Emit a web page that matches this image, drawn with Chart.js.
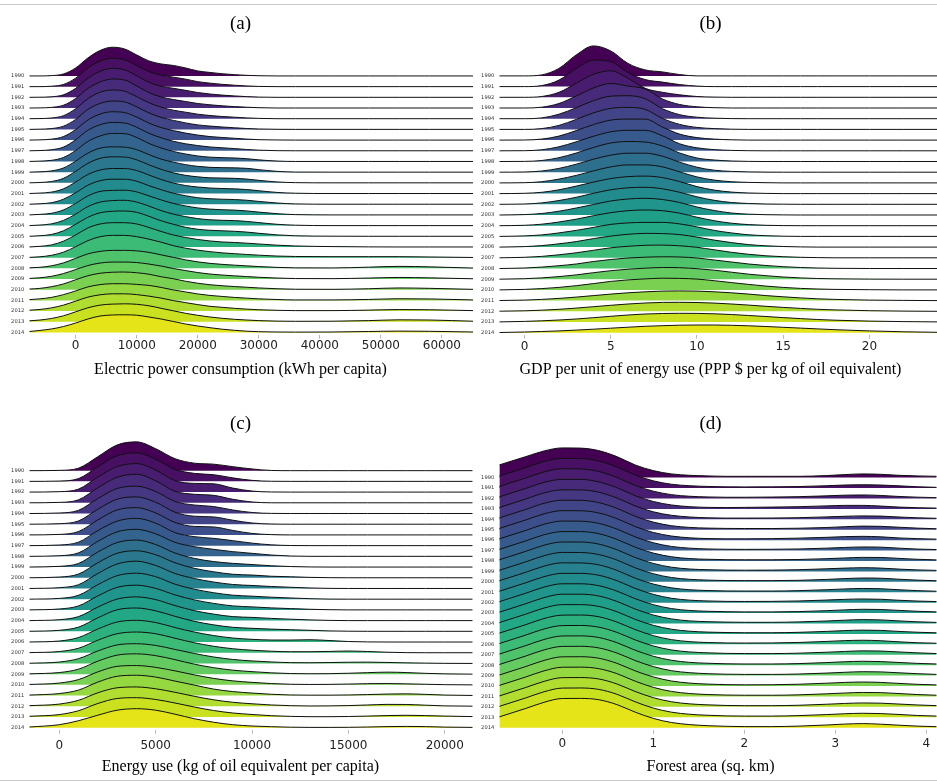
<!DOCTYPE html>
<html>
<head>
<meta charset="utf-8">
<script src="https://cdn.jsdelivr.net/npm/chart.js@4.4.1/dist/chart.umd.min.js"></script>
<style>
    html, body { margin: 0; padding: 0; background: #fff; }
    body { position: relative; width: 937px; height: 781px; overflow: hidden; }
    canvas { position: absolute; }
    .rule { position: absolute; left: 0; width: 937px; height: 1px; background: #c8c8c8; }
</style>
</head>
<body>
<div class="rule" style="top:4px"></div>
<canvas id="chartElec" width="481" height="390" style="left:0;top:0"></canvas>
<canvas id="chartGdp" width="471" height="390" style="left:475px;top:0"></canvas>
<canvas id="chartEnergy" width="481" height="391" style="left:0;top:390px"></canvas>
<canvas id="chartForest" width="471" height="391" style="left:475px;top:390px"></canvas>
<div class="rule" style="top:780px"></div>
<script>
var years = ["1990", "1991", "1992", "1993", "1994", "1995", "1996", "1997", "1998", "1999", "2000", "2001", "2002",
    "2003", "2004", "2005", "2006", "2007", "2008", "2009", "2010", "2011", "2012", "2013", "2014"];

// (a) electric power consumption, kWh per capita
var elecGrid = [-7600, -6000, -4000, -2000, 0, 2000, 4000, 6000, 8000, 10000, 12000, 14000, 16000, 18000, 20000,
    22000, 24000, 26000, 28000, 30000, 33000, 36000, 42000, 48000, 53000, 58000, 65100];
var elecTicks = [0, 10000, 20000, 30000, 40000, 50000, 60000];
var elecDensity = [
    [0,0,0.3,2,8, 18,25.5,28.7,27,21, 15,12,10.5,8,5, 3.5,2.2,1.3,0.6,0.2, 0,0,0,0,0,0,0],
    [0,0,0.4,2.2,8.5, 18.5,25.5,28.3,26.8,21, 15,11.5,9.5,7.5,5, 3.5,2.3,1.4,0.7,0.2, 0,0,0,0,0,0,0],
    [0,0.1,0.5,2.5,9, 19,26,29,27.5,21.5, 15,11,9,7,4.8, 3.3,2.2,1.4,0.7,0.2, 0,0,0,0,0,0,0],
    [0,0.1,0.6,2.8,9.5, 19.5,26,29,28,22, 15.5,11,8.5,6.5,4.5, 3.2,2.2,1.4,0.8,0.3, 0,0,0,0,0,0,0],
    [0,0.1,0.7,3,10, 20,26.5,28.7,27.5,22, 16,11.5,8.5,6.5,4.5, 3.2,2.2,1.5,0.8,0.3, 0,0,0,0,0,0,0],
    [0,0.2,0.8,3.2,10, 20,26,28.3,27.5,22.5, 16.5,12,9,6.5,4.5, 3.3,2.4,1.6,0.9,0.4, 0.1,0,0,0,0,0,0],
    [0,0.2,0.9,3.5,10.5, 20,26,28.3,27.5,23, 17,12.5,9.5,7,5, 3.5,2.6,1.8,1,0.4, 0.1,0,0,0,0,0,0],
    [0,0.2,1,3.7,11, 20.5,26,28.3,27.8,23.5, 17.5,13,9.5,7,5.2, 3.8,3,2.2,1.3,0.6, 0.1,0,0,0,0,0,0],
    [0,0.3,1.1,4,11, 20,25.5,28,27.8,24, 18,13.5,10,7.5,5.5, 4.3,3.8,3.5,2.8,1.6, 0.4,0,0,0,0,0,0],
    [0,0.3,1.2,4.2,11, 19,24,25.3,25,22.5, 17.5,13,10,7.5,5.8, 4.8,4.5,4.3,3.8,2.5, 0.8,0.1,0,0,0,0,0],
    [0,0.3,1.3,4.5,11.5, 19.5,24.5,26,25.8,23, 18,13.5,10,7.5,6, 5,4.8,4.5,3.8,2.5, 0.9,0.2,0,0,0,0,0],
    [0,0.4,1.4,4.7,11.5, 19,23.5,25,25,23, 18.5,14,10.5,8,6.5, 5.5,5,4.7,4,2.8, 1.1,0.3,0,0,0,0,0],
    [0,0.4,1.5,5,11.5, 19,23.5,25,25,23, 18.5,14.5,11,8.5,6.5, 5.5,5,4.7,4,2.8, 1.2,0.3,0,0,0,0,0],
    [0,0.5,1.6,5,11.5, 19,23.5,24.5,24.7,23, 19,15,11.5,9,7, 5.8,5.2,4.8,4,2.8, 1.2,0.3,0,0,0,0,0],
    [0,0.5,1.7,5.2,11.5, 19,23.5,25,25.3,23.5, 19.5,15,11.5,9,7, 5.8,5.3,5,4.2,3, 1.3,0.4,0,0,0,0,0],
    [0,0.5,1.8,5.5,12, 19,23.5,25,25.3,24, 20,15.5,12,9,7, 6,5.5,5,4.2,3, 1.4,0.5,0.1,0,0,0,0],
    [0,0.6,2,5.8,12, 19,23,24.3,24.3,23, 19.5,15.5,12,9.5,7.5, 6,5,4.5,3.8,3, 1.8,1,0.4,0.1,0,0,0],
    [0.3,0.8,2.3,5.5,11, 17,21,22.3,22.3,21, 18.5,15.5,12,9.5,7.5, 6,4.8,4,3.2,2.5, 1.6,1.2,1,1,1,0.7,0.2],
    [0.5,1,2.5,5.5,10, 14.5,17,18,18,17.5, 16,13.5,11,8.5,6.5, 5,4,3.2,2.5,1.8, 1,0.5,0.4,1.2,2,1.5,0.3],
    [0.6,1.2,2.7,5.5,9.5, 13.5,16,17,17,16.5, 15,13,10.5,8.5,6.5, 5,4,3.2,2.5,1.8, 1,0.5,0.4,1,1.6,1.2,0.3],
    [0.7,1.3,3,5.8,10, 14,16.5,17.5,17.7,17, 15.5,13,11,8.5,6.5, 5,4,3.2,2.5,1.8, 1,0.5,0.4,1,1.8,1.4,0.4],
    [0.8,1.5,3,5.8,9.5, 13.5,15.8,16.7,16.7,16, 15,13,10.5,8.5,6.5, 5,4,3,2.3,1.6, 0.9,0.5,0.5,1,1.7,1.5,0.5],
    [0.9,1.6,3.2,6,10, 14,16.3,17.3,17.3,16.5, 15,13,10.5,8.5,6.5, 4.8,3.8,2.8,2,1.4, 0.8,0.5,0.5,1,1.6,1.4,0.5],
    [1,1.7,3.3,6,10, 14,16.7,17.7,18,17.5, 16,13.5,11,8.5,6.5, 4.8,3.5,2.5,1.8,1.2, 0.7,0.5,0.6,1.2,2,1.8,0.6],
    [1,2,3.5,6,9.5, 13.5,16.5,17.5,17.7,17.3, 15.5,13.5,11,8.5,6.5, 4.8,3.3,2.2,1.3,0.8, 0.5,0.4,0.5,1,1.4,1.2,0.5]
];

// (b) GDP per unit of energy use
var gdpGrid = [-1.46, 0, 1, 2, 3, 4, 5, 6, 7, 8, 9, 10, 11, 12, 13, 14, 15, 16, 17, 18, 20, 22, 23.92];
var gdpTicks = [0, 5, 10, 15, 20];
var gdpDensity = [
    [0,0,1,7.5,21, 30,25,12.5,6,4, 1.3,0,0,0,0, 0,0,0,0,0, 0,0,0],
    [0,0,1,6.5,18, 26.5,25,14,7,4.5, 2,0.5,0,0,0, 0,0,0,0,0, 0,0,0],
    [0,0,0.8,5,14, 23,26.5,19,9,5, 2.5,0.8,0.2,0,0, 0,0,0,0,0, 0,0,0],
    [0,0,0.8,4.5,12, 20,24.5,22,19,9, 3.5,1.2,0.3,0,0, 0,0,0,0,0, 0,0,0],
    [0,0,0.8,4.5,11, 18,22.5,23,20,10, 4,1.5,0.5,0.1,0, 0,0,0,0,0, 0,0,0],
    [0,0,0.8,4,10, 16.5,21,22,20,11, 5,2,0.8,0.2,0, 0,0,0,0,0, 0,0,0],
    [0,0.1,1,4,9.5, 15.5,20,21,21,13, 6,2.5,1,0.3,0, 0,0,0,0,0, 0,0,0],
    [0,0.1,1,4,9, 14.5,19,20.5,20.5,15, 7,3,1.2,0.4,0.1, 0,0,0,0,0, 0,0,0],
    [0,0.1,1,3.8,8.5, 14,18.5,20,19.5,15.5, 8.5,3.5,1.5,0.5,0.1, 0,0,0,0,0, 0,0,0],
    [0,0.2,1.2,3.8,8, 13,17,19,19,16, 10,5,2,0.8,0.3, 0.1,0,0,0,0, 0,0,0],
    [0,0.2,1.2,3.8,7.5, 12,16,18,18,16, 11,6,2.8,1.2,0.5, 0.2,0,0,0,0, 0,0,0],
    [0,0.3,1.3,3.8,7.5, 11.5,15,17,17.5,16, 12,7,3.5,1.5,0.6, 0.2,0,0,0,0, 0,0,0],
    [0,0.3,1.4,3.8,7, 11,14.5,16.5,17,15.5, 12,7.5,4,1.8,0.8, 0.3,0.1,0,0,0, 0,0,0],
    [0,0.4,1.5,3.8,7, 10.5,14,16,16.7,15.5, 12.5,8,4.5,2,0.8, 0.3,0.1,0,0,0, 0,0,0],
    [0,0.4,1.5,3.7,6.5, 10,13,15,15.7,15, 12.5,8.5,5,2.5,1.1, 0.4,0.1,0,0,0, 0,0,0],
    [0,0.5,1.5,3.5,6, 9,12,13.5,14,14, 12.5,9.5,6,3.5,1.6, 0.7,0.2,0,0,0, 0,0,0],
    [0,0.5,1.5,3.3,5.5, 8.5,11,12.8,13.7,13.5, 12.5,10,7,4.5,2.5, 1.3,0.6,0.2,0,0, 0,0,0],
    [0,0.5,1.4,3,5, 7.5,10,11.5,12.5,12.7, 12,10.5,8,5.5,3.5, 2,1.1,0.5,0.2,0, 0,0,0],
    [0,0.5,1.4,2.8,4.5, 7,9,10.5,11.3,11.7, 11.5,10.5,8.5,6.5,4.5, 3,1.8,1,0.5,0.2, 0,0,0],
    [0,0.5,1.3,2.6,4.3, 6.5,8.5,10,11,11.7, 11.5,10.5,9,7,5, 3.5,2.2,1.3,0.7,0.4, 0.1,0,0],
    [0,0.5,1.3,2.5,4.2, 6.3,8.5,10,11,11.7, 11.5,10.8,9.2,7.3,5.5, 3.8,2.5,1.5,0.9,0.5, 0.2,0,0],
    [0.1,0.5,1.2,2.2,3.5, 5,6.5,7.8,8.8,9.5, 9.7,9.5,8.8,7.8,6.5, 5,3.8,2.7,1.8,1.2, 0.5,0.2,0],
    [0.1,0.5,1.1,2,3.2, 4.6,6,7.3,8.3,8.9, 9,8.8,8.2,7.3,6.2, 5,3.9,2.9,2,1.4, 0.6,0.2,0],
    [0.1,0.6,1.2,2,3, 4.3,5.7,7,8,8.5, 8.7,8.6,8.2,7.5,6.5, 5.5,4.4,3.4,2.5,1.8, 0.9,0.4,0.1],
    [0.2,0.7,1.2,1.8,2.6, 3.5,4.5,5.5,6.4,7, 7.5,7.7,7.7,7.4,6.9, 6.2,5.4,4.6,3.8,3, 1.8,0.9,0.4]
];

// (c) energy use, kg of oil equivalent per capita
var energyGrid = [-1557, 0, 1000, 2000, 3000, 4000, 5000, 6000, 7000, 8000, 9000, 10000, 11000, 12000, 13000,
    14000, 15000, 16000, 17000, 18000, 19000, 20000, 21450];
var energyTicks = [0, 5000, 10000, 15000, 20000];
var energyDensity = [
    [0,0.3,2.5,14,25.7, 28.8,22,12,7.5,6.5, 4,1.7,0.2,0,0, 0,0,0,0,0, 0,0,0],
    [0,0.3,2.8,14.5,25.5, 28.5,22,12,8,6.7, 3.5,1,0.1,0,0, 0,0,0,0,0, 0,0,0],
    [0,0.4,3,15,25.5, 28.5,22,11.5,8.7,8.3, 4,1,0.1,0,0, 0,0,0,0,0, 0,0,0],
    [0,0.4,3,15,25.5, 28.5,22,11.5,8.5,7.5, 3.5,0.8,0,0,0, 0,0,0,0,0, 0,0,0],
    [0,0.5,3.2,15,25, 27.3,22,12,8.5,7, 3.5,1,0.1,0,0, 0,0,0,0,0, 0,0,0],
    [0,0.5,3.3,15,25, 27.3,22,12,8,7.3, 4,1.2,0.2,0,0, 0,0,0,0,0, 0,0,0],
    [0,0.5,3.4,15,25, 27.3,22,12.5,8.5,8, 4.5,1.5,0.3,0,0, 0,0,0,0,0, 0,0,0],
    [0,0.6,3.5,15,24.5, 27.3,22.5,13,9,7.3, 5,2.5,0.8,0.1,0, 0,0,0,0,0, 0,0,0],
    [0,0.6,3.5,15,24.5, 27,22.5,14,9.7,7, 4.7,3,1.3,0.3,0, 0,0,0,0,0, 0,0,0],
    [0,0.7,3.6,15,24.5, 27,22.5,14,8.7,5.5, 3.7,2.5,1.3,0.5,0.1, 0,0,0,0,0, 0,0,0],
    [0,0.7,3.7,15,24.5, 27,23,15,9.5,6, 3.5,2.7,1.5,1,0.4, 0.1,0,0,0,0, 0,0,0],
    [0,0.8,3.8,15,24.5, 27.3,23,15,10,6.5, 4,3,2,1.2,0.5, 0.1,0,0,0,0, 0,0,0],
    [0,0.8,3.9,14.5,23.5, 26,22.5,15,10,6.5, 4,3,2,1.2,0.5, 0.1,0,0,0,0, 0,0,0],
    [0,0.9,4,14,22.5, 24.7,21.5,15,10,6.5, 4,3,2,1.3,0.6, 0.2,0,0,0,0, 0,0,0],
    [0,0.9,4,13.5,21.5, 23.7,21,15,10,6.5, 4,3.2,2.2,1.4,0.7, 0.2,0,0,0,0, 0,0,0],
    [0,1,4.2,13.5,21.5, 23.3,20.5,15,10,6.5, 4,3,2.2,1.6,1, 0.4,0.1,0,0,0, 0,0,0],
    [0,1,4.5,13,20, 21.7,19.5,14.5,10,6.5, 4,2.7,2,2,2.3, 1.5,0.5,0.1,0,0, 0,0,0],
    [0.1,1.2,4.5,12.5,19, 20.7,19,14.5,10,6.5, 4,2.5,1.5,1,1, 1.3,1.7,1.2,0.5,0.1, 0,0,0],
    [0.2,1.4,4.8,12.5,18.5, 19.7,18,14,10,6.5, 4,2.5,1.5,0.8,0.7, 0.9,1.2,1.3,1,0.6, 0.3,0.1,0],
    [0.3,1.6,5,13,19, 20.3,18.5,14.5,10,6.5, 4,2.5,1.3,0.6,0.4, 0.5,0.9,1.5,2,1.6, 0.8,0.3,0],
    [0.4,1.8,5.3,13,18.5, 19.3,17.5,14,10,6.5, 4,2.5,1.3,0.6,0.4, 0.5,0.8,1.2,1.3,1, 0.6,0.2,0],
    [0.5,2,5.5,13.5,19.3, 20.3,18.5,14.5,10.5,6.5, 4,2.5,1.3,0.6,0.4, 0.4,0.6,1,1.5,1.7, 1.2,0.5,0.1],
    [0.6,2.2,6,13.5,18.5, 19.3,17.5,14,10,6.5, 4,2.5,1.3,0.6,0.3, 0.4,0.7,1.3,1.9,1.8, 1.1,0.4,0.1],
    [0.7,2.4,6.3,13.5,18.5, 19.3,17.5,14,10,6.5, 4,2.5,1.3,0.6,0.3, 0.3,0.5,0.9,1.4,1.7, 1.4,0.9,0.4],
    [0.7,3,7,12.5,17.5, 19,17.5,13.5,9,5.5, 3,1.7,1,0.5,0.3, 0.3,0.4,0.7,1.1,1.3, 1.1,0.6,0.3]
];

// (d) forest area, sq. km
var forestGrid = [-0.692, -0.4, -0.2, 0, 0.2, 0.4, 0.6, 0.8, 1, 1.2, 1.4, 1.6, 1.8, 2, 2.3, 2.6, 2.9, 3.1, 3.3,
    3.5, 3.7, 3.9, 4.114];
var forestTicks = [0, 1, 2, 3, 4];
var forestDensity = [
    [12.7,21,26.7,29.7,29.5, 27,21,12.7,7,3.7, 2.3,1.7,1.3,1.3,1.3, 1.3,2,3,3.7,3.3, 2.3,1.7,1.3],
    [12,20.5,26.5,29.7,29.5, 27,21,13,7.2,3.8, 2.3,1.6,1.2,1.1,1.2, 1.5,2.3,3,3.3,3, 2.2,1.3,0.7],
    [12,20.5,26.5,29.7,29.5, 27,21,13,7.3,3.8, 2.2,1.5,1.2,1.2,1.4, 1.8,2.6,3.3,3.5,3, 2,1.3,0.8],
    [12,20.5,26.5,29.5,29.5, 27,21.2,13.2,7.4,3.9, 2.2,1.5,1.3,1.5,1.8, 2.2,3,3.5,3.5,2.8, 1.8,1.2,0.8],
    [11.8,20.3,26.4,29.5,29.4, 27.1,21.3,13.4,7.5,4, 2.3,1.5,1.2,1.2,1.3, 1.6,2.4,3,3.4,3.2, 2.3,1.5,1],
    [11.8,20.3,26.4,29.5,29.4, 27.1,21.4,13.5,7.6,4, 2.3,1.6,1.3,1.2,1.2, 1.5,2.2,3,3.6,3.4, 2.5,1.6,1],
    [11.7,20.2,26.3,29.5,29.4, 27.2,21.5,13.6,7.7,4.1, 2.3,1.6,1.3,1.3,1.5, 2,2.8,3.5,3.8,3.3, 2.2,1.5,1],
    [11.7,20.2,26.3,29.5,29.4, 27.2,21.5,13.7,7.8,4.1, 2.4,1.6,1.3,1.2,1.3, 1.6,2.4,3.1,3.6,3.4, 2.4,1.5,1],
    [11.6,20.1,26.2,29.4,29.4, 27.3,21.6,13.8,7.9,4.2, 2.4,1.7,1.3,1.2,1.2, 1.5,2.3,3,3.6,3.5, 2.6,1.7,1.1],
    [11.6,20.1,26.2,29.4,29.4, 27.3,21.7,13.9,8,4.2, 2.4,1.7,1.3,1.2,1.3, 1.7,2.6,3.3,3.7,3.3, 2.3,1.5,1],
    [11.5,20,26.1,29.4,29.3, 27.3,21.8,14,8.1,4.3, 2.5,1.7,1.3,1.2,1.2, 1.5,2.4,3.2,3.8,3.6, 2.6,1.7,1.1],
    [11.5,20,26.1,29.4,29.3, 27.4,21.9,14.1,8.2,4.4, 2.5,1.7,1.3,1.2,1.2, 1.6,2.5,3.3,3.8,3.5, 2.5,1.6,1],
    [11.4,19.9,26,29.3,29.3, 27.4,22,14.3,8.3,4.4, 2.5,1.7,1.3,1.2,1.3, 1.7,2.6,3.3,3.7,3.4, 2.4,1.6,1.1],
    [11.4,19.9,26,29.3,29.3, 27.4,22,14.4,8.4,4.5, 2.6,1.8,1.4,1.2,1.2, 1.5,2.4,3.2,3.8,3.6, 2.7,1.8,1.2],
    [11.3,19.8,25.9,29.3,29.3, 27.5,22.1,14.5,8.5,4.6, 2.6,1.8,1.4,1.2,1.2, 1.6,2.5,3.3,3.9,3.6, 2.6,1.7,1.1],
    [11.3,19.8,25.9,29.3,29.3, 27.5,22.2,14.6,8.6,4.7, 2.7,1.8,1.4,1.2,1.2, 1.6,2.5,3.3,3.8,3.5, 2.5,1.7,1.1],
    [11.2,19.7,25.8,29.2,29.3, 27.6,22.3,14.8,8.7,4.7, 2.7,1.8,1.4,1.3,1.4, 1.9,2.9,3.7,4.1,3.6, 2.5,1.6,1.1],
    [11.2,19.7,25.8,29.2,29.3, 27.6,22.4,14.9,8.8,4.8, 2.8,1.9,1.4,1.2,1.2, 1.6,2.5,3.3,3.9,3.7, 2.8,1.9,1.2],
    [11.1,19.6,25.7,29.2,29.3, 27.7,22.5,15,8.9,4.9, 2.8,1.9,1.4,1.2,1.2, 1.6,2.6,3.4,3.9,3.6, 2.7,1.8,1.2],
    [11.1,19.6,25.7,29.2,29.3, 27.7,22.6,15.1,9,4.9, 2.9,1.9,1.4,1.2,1.2, 1.6,2.5,3.3,3.9,3.7, 2.8,1.9,1.2],
    [11,19.5,25.6,29.2,29.3, 27.8,22.7,15.2,9.1,5, 2.9,1.9,1.4,1.2,1.3, 1.8,2.8,3.6,4,3.6, 2.6,1.7,1.1],
    [11,19.5,25.6,29.2,29.3, 27.8,22.8,15.3,9.1,5, 2.9,1.9,1.4,1.2,1.2, 1.6,2.6,3.4,4,3.8, 2.9,1.9,1.2],
    [10.9,19.4,25.5,29.2,29.3, 27.9,22.9,15.4,9.2,5.1, 3,2,1.4,1.2,1.2, 1.6,2.6,3.4,3.9,3.7, 2.8,1.9,1.2],
    [10.9,19.4,25.5,29.2,29.3, 27.9,23,15.5,9.2,5.1, 3,2,1.4,1.2,1.2, 1.7,2.7,3.5,4,3.7, 2.8,1.8,1.2],
    [10.8,19.3,25.4,29.2,29.3, 28,23.1,15.6,9.3,5.2, 3.1,2,1.4,1.1,1.1, 1.6,2.7,3.6,4.1,3.5, 2.5,1.6,1]
];

// viridis(i / 25), one colour per year
var viridis = ["#440154", "#471063", "#481d6f", "#472a7a", "#453781", "#414487", "#3c4f8a", "#375a8c", "#32648e",
    "#2e6f8e", "#2a788e", "#26828e", "#228b8d", "#1f958b", "#1f9f88", "#22a884", "#2cb17e", "#3bbb75", "#4ec36b",
    "#63cb5f", "#7ad151", "#95d840", "#b0dd2f", "#cae11f", "#e5e419"];

var serif = "'Liberation Serif', 'Times New Roman', serif";
var sans = "'DejaVu Sans', sans-serif";

function ridgeline(canvasId, title, xLabel, grid, density, xTicks, box) {
    var n = years.length;
    var datasets = years.map(function (year, i) {
        var base = (n - 1 - i) * box.gap;
        return {
            label: year,
            data: grid.map(function (x, j) { return { x: x, y: base + density[i][j] }; }),
            fill: { value: base },
            backgroundColor: viridis[i],
            borderColor: "#111",
            borderWidth: 1,
            pointRadius: 0,
            pointHoverRadius: 0,
            cubicInterpolationMode: "monotone",
            order: n - 1 - i
        };
    });

    var ctx = document.getElementById(canvasId).getContext("2d");
    return new Chart(ctx, {
        type: "line",
        data: { datasets: datasets },
        options: {
            responsive: false,
            animation: false,
            devicePixelRatio: 1,
            events: [],
            layout: { padding: 0 },
            plugins: {
                legend: { display: false },
                tooltip: { enabled: false },
                title: {
                    display: true,
                    text: title,
                    color: "#000",
                    font: { family: serif, size: 19, weight: "normal" },
                    padding: { top: box.titleTop, bottom: box.top - box.titleTop - 22.8 }
                },
                subtitle: {
                    display: true,
                    position: "bottom",
                    text: xLabel,
                    color: "#000",
                    font: { family: serif, size: 16, weight: "normal" },
                    padding: { top: 0, bottom: box.labelPad }
                }
            },
            scales: {
                x: {
                    type: "linear",
                    min: box.xMin,
                    max: box.xMax,
                    afterFit: function (scale) {
                        scale.height = box.h - (box.base + 2) - (19.2 + box.labelPad);
                    },
                    afterBuildTicks: function (scale) {
                        scale.ticks = xTicks.map(function (v) { return { value: v }; });
                    },
                    ticks: {
                        autoSkip: false,
                        maxRotation: 0,
                        padding: box.tickPad,
                        color: "#222",
                        font: { family: sans, size: 12 },
                        callback: function (v) { return String(v); }
                    },
                    grid: { drawOnChartArea: false, drawTicks: true, tickLength: 4, color: "#b8b8b8" },
                    border: { display: false }
                },
                y: {
                    type: "linear",
                    min: -2,
                    max: box.base - box.top,
                    afterFit: function (scale) { scale.width = box.axisW; },
                    afterBuildTicks: function (scale) {
                        scale.ticks = years.map(function (y, i) { return { value: (n - 1 - i) * box.gap }; });
                    },
                    ticks: {
                        autoSkip: false,
                        padding: 5,
                        color: "#333",
                        font: { family: sans, size: 5.2 },
                        callback: function (v, i) { return years[i]; }
                    },
                    grid: { display: false, drawTicks: false },
                    border: { display: false }
                },
                edge: {
                    type: "linear",
                    position: "right",
                    afterFit: function (scale) { scale.width = box.rightW; },
                    ticks: { display: false },
                    grid: { display: false, drawTicks: false },
                    border: { display: false }
                }
            }
        }
    });
}

ridgeline("chartElec", "(a)", "Electric power consumption (kWh per capita)", elecGrid, elecDensity, elecTicks,
    { h: 390, axisW: 29.3, rightW: 8, base: 332.5, gap: 10.69, top: 40, titleTop: 12.6,
      xMin: -7600, xMax: 65100, tickPad: 0, labelPad: 10.4 });
ridgeline("chartGdp", "(b)", "GDP per unit of energy use (PPP $ per kg of oil equivalent)", gdpGrid, gdpDensity, gdpTicks,
    { h: 390, axisW: 24.3, rightW: 9, base: 332.7, gap: 10.7, top: 40, titleTop: 12.6,
      xMin: -1.46, xMax: 23.92, tickPad: 0.8, labelPad: 10.4 });
ridgeline("chartEnergy", "(c)", "Energy use (kg of oil equivalent per capita)", energyGrid, energyDensity, energyTicks,
    { h: 391, axisW: 29.3, rightW: 8.3, base: 337.7, gap: 10.71, top: 50, titleTop: 22.6,
      xMin: -1557, xMax: 21450, tickPad: 4.8, labelPad: 4.7 });
ridgeline("chartForest", "(d)", "Forest area (sq. km)", forestGrid, forestDensity, forestTicks,
    { h: 391, axisW: 24.3, rightW: 9.3, base: 337.7, gap: 10.42, top: 55, titleTop: 22.6,
      xMin: -0.692, xMax: 4.114, tickPad: 3.4, labelPad: 4.7 });
</script>
</body>
</html>
